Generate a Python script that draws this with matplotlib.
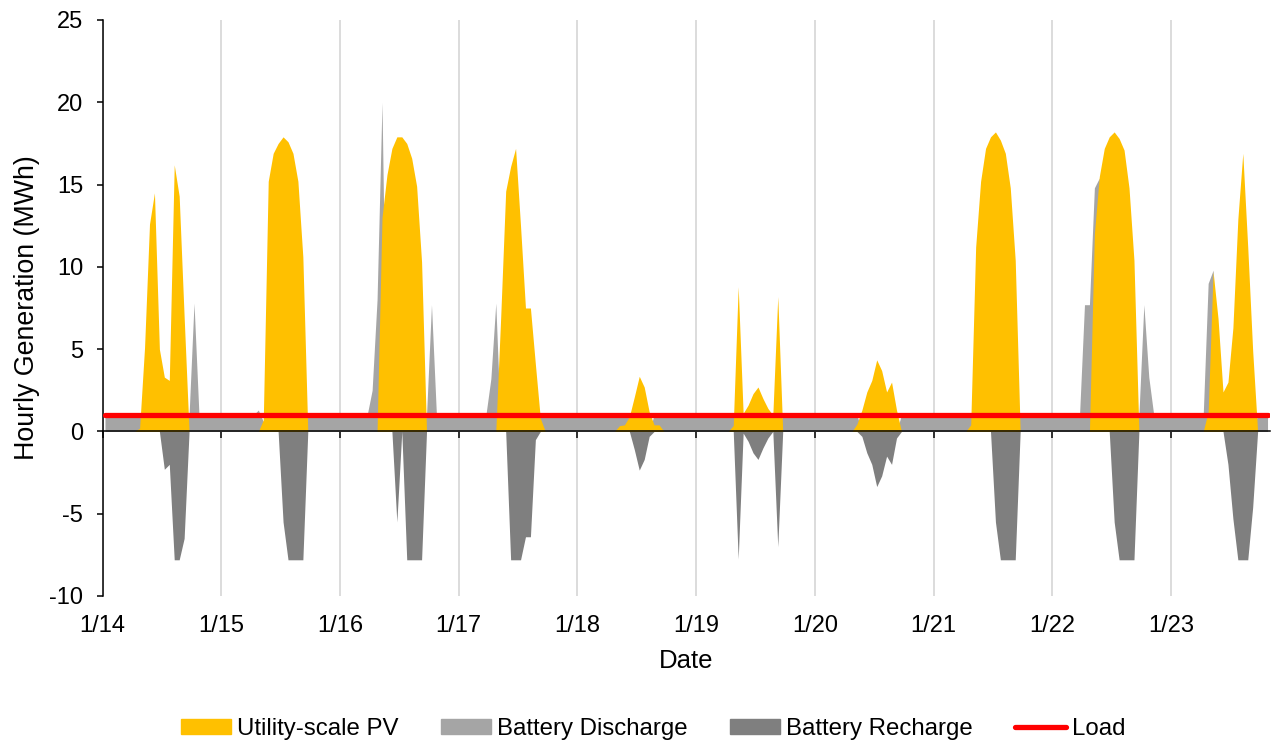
import numpy as np
import matplotlib
matplotlib.use("Agg")
import matplotlib.pyplot as plt
from matplotlib.patches import Patch
from matplotlib.lines import Line2D

plt.rcParams['font.family'] = ['Liberation Sans', 'DejaVu Sans']
plt.rcParams['axes.unicode_minus'] = False

# Hourly values (MWh), one row per day starting 1/14 00:00
pv = [
    0, 0, 0, 0, 0, 0, 0, 0.2, 5.1, 12.6, 14.5, 5.0, 3.3, 3.1, 16.2, 14.3, 7.0, 0, 0, 0, 0, 0, 0, 0,
    0, 0, 0, 0, 0, 0, 0, 0, 0.7, 15.2, 16.9, 17.5, 17.9, 17.6, 16.9, 15.2, 10.6, 0, 0, 0, 0, 0, 0, 0,
    0, 0, 0, 0, 0, 0, 0, 0, 13.0, 15.6, 17.2, 17.9, 17.9, 17.5, 16.6, 14.9, 10.3, 0, 0, 0, 0, 0, 0, 0,
    0, 0, 0, 0, 0, 0, 0, 0, 7.0, 14.6, 16.1, 17.2, 12.5, 7.5, 7.5, 4.1, 0.8, 0, 0, 0, 0, 0, 0, 0,
    0, 0, 0, 0, 0, 0, 0, 0, 0.35, 0.4, 0.9, 2.1, 3.35, 2.7, 1.2, 0.4, 0.4, 0, 0, 0, 0, 0, 0, 0,
    0, 0, 0, 0, 0, 0, 0, 0.36, 8.8, 1.1, 1.6, 2.3, 2.7, 2.0, 1.4, 1.0, 8.2, 0, 0, 0, 0, 0, 0, 0,
    0, 0, 0, 0, 0, 0, 0, 0, 0.45, 1.3, 2.4, 3.1, 4.35, 3.7, 2.4, 3.0, 1.3, 0, 0, 0, 0, 0, 0, 0,
    0, 0, 0, 0, 0, 0, 0, 0.4, 11.2, 15.2, 17.2, 17.9, 18.2, 17.7, 16.9, 14.8, 10.4, 0, 0, 0, 0, 0, 0, 0,
    0, 0, 0, 0, 0, 0, 0, 0, 12.0, 15.5, 17.2, 17.9, 18.2, 17.8, 17.1, 14.8, 10.4, 0, 0, 0, 0, 0, 0, 0,
    0, 0, 0, 0, 0, 0, 0, 1.2, 9.7, 6.85, 2.4, 3.0, 6.3, 12.9, 16.9, 11.2, 4.9, 0, 0, 0,
]

discharge = [
    1, 1, 1, 1, 1, 1, 1, 1, 0, 0, 0, 0, 0, 0, 0, 0, 0, 1, 7.8, 1, 1, 1, 1, 1,
    1, 1, 1, 1, 1, 1, 1, 1.3, 0.6, 0, 0, 0, 0, 0, 0, 0, 0, 1, 1, 1, 1, 1, 1, 1,
    1, 1, 1, 1, 1, 1, 2.5, 8.0, 20.0, 0, 0, 0, 0, 0, 0, 0, 0, 1, 7.7, 1, 1, 1, 1, 1,
    1, 1, 1, 1, 1, 1, 3.2, 7.8, 0, 0, 0, 0, 0, 0, 0, 0, 1, 1, 1, 1, 1, 1, 1, 1,
    1, 1, 1, 1, 1, 1, 1, 1, 1, 1, 1, 0, 0, 0, 0, 1, 1, 1, 1, 1, 1, 1, 1, 1,
    1, 1, 1, 1, 1, 1, 1, 1, 0, 0, 0, 0, 0, 0, 0, 0, 0, 1, 1, 1, 1, 1, 1, 1,
    1, 1, 1, 1, 1, 1, 1, 1, 1, 0, 0, 0, 0, 0, 0, 0, 0, 1, 1, 1, 1, 1, 1, 1,
    1, 1, 1, 1, 1, 1, 1, 1, 0, 0, 0, 0, 0, 0, 0, 0, 0, 1, 1, 1, 1, 1, 1, 1,
    1, 1, 1, 1, 1, 1, 7.7, 7.7, 14.8, 15.4, 0, 0, 0, 0, 0, 0, 0, 1, 7.7, 3.3, 1, 1, 1, 1,
    1, 1, 1, 1, 1, 1, 1, 9.0, 9.8, 0, 0, 0, 0, 0, 0, 0, 0, 1, 1, 1,
]

recharge = [
    0, 0, 0, 0, 0, 0, 0, 0, 0, 0, 0, 0, -2.3, -2.0, -7.8, -7.8, -6.5, 0, 0, 0, 0, 0, 0, 0,
    0, 0, 0, 0, 0, 0, 0, 0, 0, 0, 0, 0, -5.5, -7.8, -7.8, -7.8, -7.8, 0, 0, 0, 0, 0, 0, 0,
    0, 0, 0, 0, 0, 0, 0, 0, 0, 0, 0, -5.5, 0, -7.8, -7.8, -7.8, -7.8, 0, 0, 0, 0, 0, 0, 0,
    0, 0, 0, 0, 0, 0, 0, 0, 0, 0, -7.8, -7.8, -7.8, -6.4, -6.4, -0.5, 0, 0, 0, 0, 0, 0, 0, 0,
    0, 0, 0, 0, 0, 0, 0, 0, 0, 0, 0, -1.1, -2.35, -1.7, -0.3, 0, 0, 0, 0, 0, 0, 0, 0, 0,
    0, 0, 0, 0, 0, 0, 0, 0, -7.75, -0.1, -0.6, -1.3, -1.7, -1.0, -0.4, 0, -7.0, 0, 0, 0, 0, 0, 0, 0,
    0, 0, 0, 0, 0, 0, 0, 0, 0, -0.3, -1.3, -2.0, -3.35, -2.7, -1.5, -2.0, -0.4, 0, 0, 0, 0, 0, 0, 0,
    0, 0, 0, 0, 0, 0, 0, 0, 0, 0, 0, 0, -5.5, -7.8, -7.8, -7.8, -7.8, 0, 0, 0, 0, 0, 0, 0,
    0, 0, 0, 0, 0, 0, 0, 0, 0, 0, 0, 0, -5.5, -7.8, -7.8, -7.8, -7.8, 0, 0, 0, 0, 0, 0, 0,
    0, 0, 0, 0, 0, 0, 0, 0, 0, 0, 0, -2.0, -5.3, -7.8, -7.8, -7.8, -4.6, 0, 0, 0,
]

load_mwh = 1.0
day_labels = ['1/14', '1/15', '1/16', '1/17', '1/18', '1/19', '1/20', '1/21', '1/22', '1/23']

n = len(pv)
x = (np.arange(n) + 0.5) / 24.0   # points sit in the middle of each hour slot
load = np.full(n, load_mwh)

W, H = 1277, 746
fig = plt.figure(figsize=(W / 100, H / 100), dpi=100)
ax = fig.add_axes([102.5 / W, 1 - 596 / H, (1270 - 102.5) / W, (596 - 20) / H])

c_pv = '#FFC000'
c_dis = '#A5A5A5'
c_rec = '#7F7F7F'

ax.fill_between(x, 0, discharge, color=c_dis, lw=0, zorder=2)
ax.fill_between(x, 0, pv, color=c_pv, lw=0, zorder=3)
ax.fill_between(x, 0, recharge, color=c_rec, lw=0, zorder=3)
ax.plot(x, load, color='#FF0000', lw=3.8, solid_capstyle='round', zorder=5)

ax.set_xlim(0, n / 24.0)
ax.set_ylim(-10, 25)
ax.set_yticks(np.arange(-10, 26, 5))
ax.set_xticks(np.arange(len(day_labels)))
ax.set_xticklabels(day_labels)

ax.grid(axis='x', color='#D9D9D9', lw=1.3, zorder=0)
ax.set_axisbelow(True)

for s in ['top', 'right']:
    ax.spines[s].set_visible(False)
ax.spines['bottom'].set_position(('data', 0))
ax.spines['bottom'].set_zorder(4)
ax.spines['left'].set_linewidth(1.1)
ax.spines['bottom'].set_linewidth(1.1)

ax.tick_params(axis='y', direction='out', length=4, width=1.1, labelsize=17, pad=10)
ax.tick_params(axis='x', direction='out', length=5, width=1.1, labelsize=17, pad=127)

fig.text(27.5 / W, 1 - 308 / H, 'Hourly Generation (MWh)', rotation=90,
         ha='center', va='center', fontsize=19.3)
fig.text(686 / W, 1 - 661 / H, 'Date', ha='center', va='center', fontsize=18.5)

handles = [
    Patch(color=c_pv, label='Utility-scale PV'),
    Patch(color=c_dis, label='Battery Discharge'),
    Patch(color=c_rec, label='Battery Recharge'),
    Line2D([], [], color='#FF0000', lw=3.8, solid_capstyle='round', label='Load'),
]
fig.legend(handles=handles, loc='center', bbox_to_anchor=(653 / W, 1 - 729 / H), ncol=4,
           frameon=False, fontsize=17.3, handlelength=2.1, handleheight=0.6,
           handletextpad=0.25, columnspacing=1.75)

fig.savefig('out.png', dpi=100)
